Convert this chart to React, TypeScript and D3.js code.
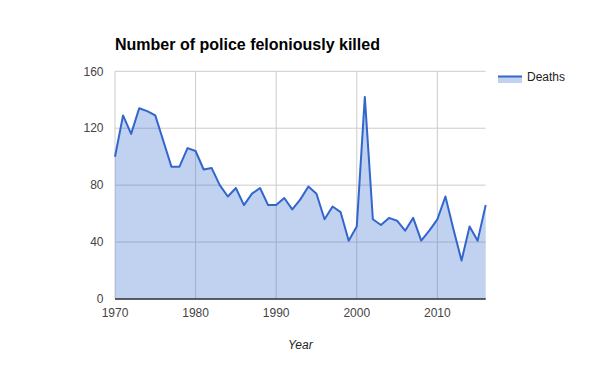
import React from "react";
import * as d3 from "d3";

const years: number[] = [
  1970, 1971, 1972, 1973, 1974, 1975, 1976, 1977, 1978, 1979,
  1980, 1981, 1982, 1983, 1984, 1985, 1986, 1987, 1988, 1989,
  1990, 1991, 1992, 1993, 1994, 1995, 1996, 1997, 1998, 1999,
  2000, 2001, 2002, 2003, 2004, 2005, 2006, 2007, 2008, 2009,
  2010, 2011, 2012, 2013, 2014, 2015, 2016,
];
const deaths: number[] = [
  100, 129, 116, 134, 132, 129, 111, 93, 93, 106,
  104, 91, 92, 80, 72, 78, 66, 74, 78, 66,
  66, 71, 63, 70, 79, 74, 56, 65, 61, 41,
  51, 142, 56, 52, 57, 55, 48, 57, 41, 48,
  56, 72, 49, 27, 51, 41, 66,
];
const yTicks: number[] = [0, 40, 80, 120, 160];
const xTicks: number[] = [1970, 1980, 1990, 2000, 2010];
const title = "Number of police feloniously killed";
const seriesName = "Deaths";
const xTitle = "Year";

const W = 600;
const H = 371;
const plot = { left: 115, right: 485.7, top: 71.3, bottom: 299 };
const FONT = "Arial, 'Liberation Sans', sans-serif";

export default function App() {
  const x = d3.scaleLinear().domain([1970, 2016]).range([plot.left, plot.right]);
  const y = d3.scaleLinear().domain([0, 160]).range([plot.bottom, plot.top]);
  const data = years.map((yr, i) => ({ yr, v: deaths[i] }));
  const area = d3
    .area<{ yr: number; v: number }>()
    .x((d) => x(d.yr))
    .y0(y(0))
    .y1((d) => y(d.v));
  const line = d3
    .line<{ yr: number; v: number }>()
    .x((d) => x(d.yr))
    .y((d) => y(d.v));

  return (
    <svg
      width={W}
      height={H}
      style={{ position: "absolute", left: 0, top: 0, background: "#fff" }}
      fontFamily={FONT}
    >
      <rect x={0} y={0} width={W} height={H} fill="#fff" />
      {/* gridlines */}
      {yTicks.map((t) => (
        <line
          key={"gy" + t}
          x1={plot.left}
          x2={plot.right}
          y1={y(t)}
          y2={y(t)}
          stroke="#cccccc"
          strokeWidth={1}
        />
      ))}
      {[1970, ...xTicks.slice(1)].map((t) => (
        <line
          key={"gx" + t}
          x1={x(t)}
          x2={x(t)}
          y1={plot.top}
          y2={plot.bottom}
          stroke="#cccccc"
          strokeWidth={1}
        />
      ))}
      <path d={area(data) || ""} fill="#3366cc" fillOpacity={0.3} />
      <path
        d={line(data) || ""}
        fill="none"
        stroke="#3366cc"
        strokeWidth={2}
        strokeLinejoin="round"
      />
      <line
        x1={plot.left}
        x2={plot.right}
        y1={y(0)}
        y2={y(0)}
        stroke="#333333"
        strokeWidth={1.5}
      />
      {/* y tick labels */}
      {yTicks.map((t) => (
        <text
          key={"ty" + t}
          x={103.5}
          y={y(t)}
          dy="0.35em"
          textAnchor="end"
          fontSize={12}
          fill="#444444"
        >
          {t}
        </text>
      ))}
      {/* x tick labels */}
      {xTicks.map((t) => (
        <text
          key={"tx" + t}
          x={x(t)}
          y={317}
          textAnchor="middle"
          fontSize={12}
          fill="#444444"
        >
          {t}
        </text>
      ))}
      <text
        x={(plot.left + plot.right) / 2}
        y={349}
        textAnchor="middle"
        fontSize={12}
        fontStyle="italic"
        fill="#222222"
      >
        {xTitle}
      </text>
      <text x={115} y={50} fontSize={16} fontWeight="bold" fill="#000000">
        {title}
      </text>
      {/* legend */}
      <rect x={498} y={77} width={24} height={6} fill="#3366cc" fillOpacity={0.3} />
      <line x1={498} x2={522} y1={76.5} y2={76.5} stroke="#3366cc" strokeWidth={2} />
      <text x={527} y={81} fontSize={12} fill="#222222">
        {seriesName}
      </text>
    </svg>
  );
}
